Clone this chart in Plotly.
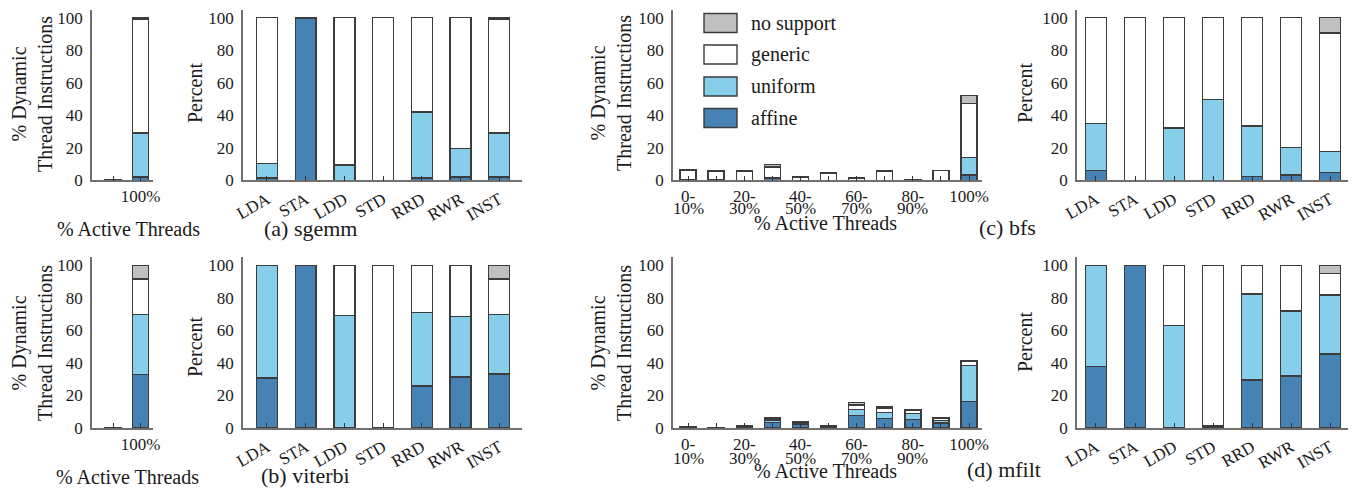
import plotly.graph_objects as go

# ---------------- data ----------------
series_names = ["affine", "uniform", "generic", "no support"]
series_colors = ["#4682B4", "#87CEEB", "#FFFFFF", "#C0C0C0"]

type_cats = ["LDA", "STA", "LDD", "STD", "RRD", "RWR", "INST"]
small_hist_line1 = ["", "100%"]
big_hist_line1 = ["0-", "", "20-", "", "40-", "", "60-", "", "80-", "", "100%"]
big_hist_line2 = ["10%", "", "30%", "", "50%", "", "70%", "", "90%", "", ""]

# (a) sgemm
sgemm_hist_affine = [0.0, 2.0]
sgemm_hist_uniform = [0.0, 27.0]
sgemm_hist_generic = [0.3, 70.3]
sgemm_hist_nosup = [0.0, 0.7]

sgemm_type_affine = [1.5, 99.5, 0.0, 0.0, 1.5, 2.0, 2.0]
sgemm_type_uniform = [9.0, 0.0, 9.5, 0.0, 40.5, 17.5, 27.0]
sgemm_type_generic = [89.5, 0.0, 90.5, 100.0, 58.0, 80.5, 70.3]
sgemm_type_nosup = [0.0, 0.5, 0.0, 0.0, 0.0, 0.0, 0.7]

# (b) viterbi
viterbi_hist_affine = [0.0, 33.0]
viterbi_hist_uniform = [0.0, 36.9]
viterbi_hist_generic = [0.4, 21.7]
viterbi_hist_nosup = [0.0, 8.4]

viterbi_type_affine = [30.7, 100.0, 0.0, 0.3, 25.8, 31.4, 33.2]
viterbi_type_uniform = [69.3, 0.0, 69.3, 0.0, 45.1, 37.0, 36.7]
viterbi_type_generic = [0.0, 0.0, 30.7, 99.7, 29.1, 31.6, 21.7]
viterbi_type_nosup = [0.0, 0.0, 0.0, 0.0, 0.0, 0.0, 8.4]

# (c) bfs
bfs_hist_affine = [0.5, 0.5, 0.0, 1.5, 0.0, 0.0, 0.0, 0.0, 0.0, 0.0, 3.3]
bfs_hist_uniform = [0.0, 0.0, 0.0, 0.3, 0.0, 0.0, 0.0, 0.0, 0.0, 0.0, 10.6]
bfs_hist_generic = [5.8, 5.3, 5.7, 6.3, 1.9, 4.6, 1.2, 5.4, 0.2, 6.0, 33.4]
bfs_hist_nosup = [0.3, 0.3, 0.3, 1.8, 0.1, 0.1, 0.2, 0.3, 0.1, 0.0, 4.7]

bfs_type_affine = [6.1, 0.0, 0.0, 0.0, 2.5, 3.3, 4.9]
bfs_type_uniform = [28.7, 0.0, 32.1, 49.7, 31.0, 16.7, 12.7]
bfs_type_generic = [65.2, 100.0, 67.9, 50.3, 66.5, 80.0, 73.0]
bfs_type_nosup = [0.0, 0.0, 0.0, 0.0, 0.0, 0.0, 9.4]

# (d) mfilt
mfilt_hist_affine = [0.2, 0.1, 0.5, 3.5, 2.0, 0.8, 7.8, 5.9, 5.1, 3.0, 16.4]
mfilt_hist_uniform = [0.0, 0.0, 0.0, 1.3, 1.0, 0.0, 3.7, 3.5, 3.9, 1.5, 21.9]
mfilt_hist_generic = [0.2, 0.1, 0.4, 1.0, 0.5, 0.4, 2.6, 2.8, 1.8, 1.5, 2.8]
mfilt_hist_nosup = [0.1, 0.1, 0.3, 0.7, 0.2, 0.0, 1.7, 0.9, 0.7, 0.6, 0.5]

mfilt_type_affine = [37.7, 100.0, 0.0, 1.2, 29.5, 32.0, 45.5]
mfilt_type_uniform = [62.3, 0.0, 63.1, 0.0, 52.9, 39.9, 36.3]
mfilt_type_generic = [0.0, 0.0, 36.9, 98.8, 17.6, 28.1, 13.3]
mfilt_type_nosup = [0.0, 0.0, 0.0, 0.0, 0.0, 0.0, 4.9]

# ---------------- layout helpers ----------------
# the html page body has an 8px margin, so the figure is drawn 8px in from the corner
OFF = 8
W, H = 1356 - OFF, 489 - OFF
FONT = "Liberation Serif, Times New Roman, DejaVu Serif, serif"
TXT = "#1a1a1a"


def px(x):
    return (x - OFF) / W


def py(y):
    return 1 - (y - OFF) / H


fig = go.Figure()

panels = [
    (1, [sgemm_hist_affine, sgemm_hist_uniform, sgemm_hist_generic, sgemm_hist_nosup], 0.58),
    (2, [sgemm_type_affine, sgemm_type_uniform, sgemm_type_generic, sgemm_type_nosup], 0.54),
    (3, [bfs_hist_affine, bfs_hist_uniform, bfs_hist_generic, bfs_hist_nosup], 0.57),
    (4, [bfs_type_affine, bfs_type_uniform, bfs_type_generic, bfs_type_nosup], 0.54),
    (5, [viterbi_hist_affine, viterbi_hist_uniform, viterbi_hist_generic, viterbi_hist_nosup], 0.58),
    (6, [viterbi_type_affine, viterbi_type_uniform, viterbi_type_generic, viterbi_type_nosup], 0.54),
    (7, [mfilt_hist_affine, mfilt_hist_uniform, mfilt_hist_generic, mfilt_hist_nosup], 0.57),
    (8, [mfilt_type_affine, mfilt_type_uniform, mfilt_type_generic, mfilt_type_nosup], 0.54),
]

for idx, data, bw in panels:
    xa = "x" if idx == 1 else f"x{idx}"
    ya = "y" if idx == 1 else f"y{idx}"
    n = len(data[0])
    for name, color, vals in zip(series_names, series_colors, data):
        fig.add_trace(go.Bar(
            x=list(range(n)), y=vals, name=name, width=bw,
            marker=dict(color=color, line=dict(color="#3c3c3c", width=1.4)),
            xaxis=xa, yaxis=ya, showlegend=False,
        ))

x_domains = {
    "hs": [px(92), px(153)],
    "ty": [px(243), px(522)],
    "hb": [px(673), px(982)],
    "t2": [px(1077), px(1352)],
}
top_dom = [py(180.3), py(9.6)]
bot_dom = [py(428), py(257.2)]

axis_spec = {
    1: ("hs", top_dom, [-0.764, 1.455], [0, 1], small_hist_line1, 0),
    2: ("ty", top_dom, [-0.62, 6.59], list(range(7)), type_cats, -30),
    3: ("hb", top_dom, [-0.534, 10.46], list(range(11)), big_hist_line1, 0),
    4: ("t2", top_dom, [-0.487, 6.564], list(range(7)), type_cats, -30),
    5: ("hs", bot_dom, [-0.764, 1.455], [0, 1], small_hist_line1, 0),
    6: ("ty", bot_dom, [-0.62, 6.59], list(range(7)), type_cats, -30),
    7: ("hb", bot_dom, [-0.534, 10.46], list(range(11)), big_hist_line1, 0),
    8: ("t2", bot_dom, [-0.487, 6.564], list(range(7)), type_cats, -30),
}

layout = dict(
    width=W, height=H, margin=dict(l=0, r=0, t=0, b=0, pad=0, autoexpand=False),
    paper_bgcolor="white", plot_bgcolor="white",
    barmode="stack", showlegend=False,
    font=dict(family=FONT, size=17, color=TXT),
)
for idx, (xd, yd, xr, tv, tt, ang) in axis_spec.items():
    xk = "xaxis" if idx == 1 else f"xaxis{idx}"
    yk = "yaxis" if idx == 1 else f"yaxis{idx}"
    layout[xk] = dict(
        domain=x_domains[xd], range=xr, anchor="y" if idx == 1 else f"y{idx}",
        tickmode="array", tickvals=tv, ticktext=tt, tickangle=ang,
        showline=True, linecolor="#707070", linewidth=1.5,
        ticks="inside", ticklen=5, tickcolor="#333333", tickwidth=1,
        showgrid=False, zeroline=False, fixedrange=True, automargin=False,
        tickfont=dict(family=FONT, size=17, color=TXT),
        ticklabelstandoff=0 if ang == 0 else 1,
    )
    layout[yk] = dict(
        domain=yd, range=[0, 105], anchor="x" if idx == 1 else f"x{idx}",
        tickmode="array", tickvals=[0, 20, 40, 60, 80, 100],
        showline=True, linecolor="#707070", linewidth=1.5,
        ticks="", showgrid=False, zeroline=False, fixedrange=True, automargin=False,
        tickfont=dict(family=FONT, size=17, color=TXT),
        ticklabelstandoff=4,
    )

fig.update_layout(**layout)

annotations = []


def ann(text, x, y, size=20, angle=0, xanchor="center", xref="paper"):
    annotations.append(dict(
        text=text, x=x, y=y, xref=xref, yref="paper", showarrow=False,
        textangle=angle, xanchor=xanchor, yanchor="middle",
        font=dict(family=FONT, size=size, color=TXT),
    ))


# second line of histogram tick labels
for xaxis_name, yline in (("x3", 209), ("x7", 458)):
    for i, t in enumerate(big_hist_line2):
        if t:
            ann(t, i, py(yline), size=17, xref=xaxis_name)

# y titles
ann("% Dynamic<br>Thread Instructions", px(32), py(94), angle=-90)
ann("% Dynamic<br>Thread Instructions", px(32), py(343), angle=-90)
ann("% Dynamic<br>Thread Instructions", px(611), py(93), angle=-90)
ann("% Dynamic<br>Thread Instructions", px(611), py(343), angle=-90)
ann("Percent", px(195), py(93), angle=-90)
ann("Percent", px(195), py(347), angle=-90)
ann("Percent", px(1025), py(93), angle=-90)
ann("Percent", px(1025), py(342), angle=-90)

# x titles
ann("% Active Threads", px(128), py(229))
ann("% Active Threads", px(127), py(477))
ann("% Active Threads", px(825), py(223))
ann("% Active Threads", px(825), py(471))

# captions
ann("(a) sgemm", px(310), py(228), size=22)
ann("(c) bfs", px(1007), py(227), size=22)
ann("(b) viterbi", px(305), py(475), size=22)
ann("(d) mfilt", px(1004), py(469), size=22)

# legend (drawn inside the bfs histogram panel)
shapes = []
legend_rows = [("no support", 23), ("generic", 54.5), ("uniform", 86.5), ("affine", 118)]
color_of = dict(zip(series_names, series_colors))
for name, yc in legend_rows:
    shapes.append(dict(
        type="rect", xref="paper", yref="paper",
        x0=px(704), x1=px(737), y0=py(yc + 9.5), y1=py(yc - 9.5),
        fillcolor=color_of[name], line=dict(color="#3c3c3c", width=1.4),
    ))
    ann(name, px(749), py(yc), size=20, xanchor="left")

fig.update_layout(annotations=annotations, shapes=shapes)
fig.write_html("out.html")
